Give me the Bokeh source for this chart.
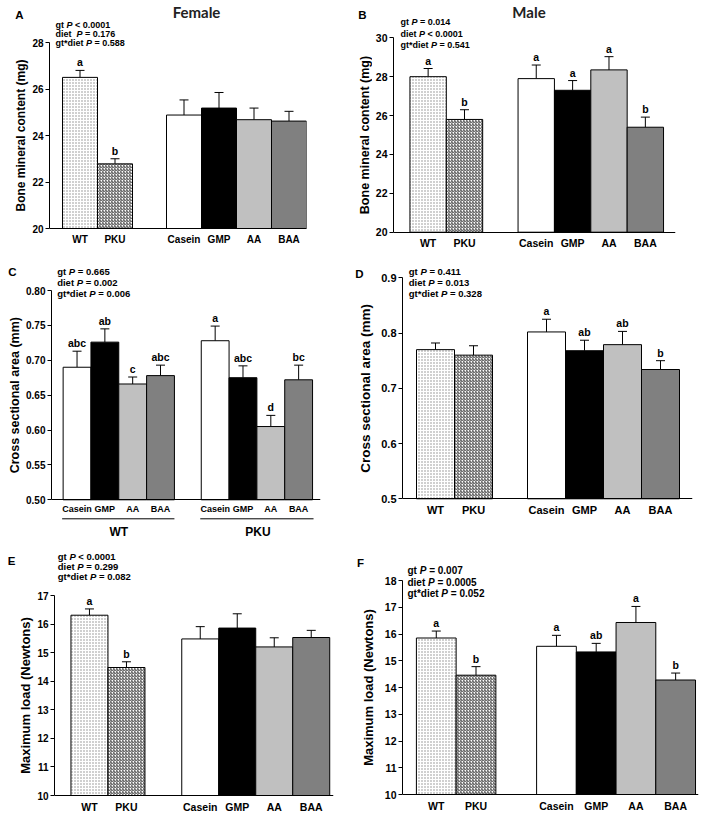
import math
from bokeh.plotting import figure
from bokeh.layouts import column, row
from bokeh.models import (Range1d, FixedTicker, CustomJSTickFormatter, Label, Whisker,
                          TeeHead, ColumnDataSource, NumeralTickFormatter)
from bokeh.core.properties import value
from bokeh.embed import file_html
from bokeh.resources import INLINE

FONT = "Liberation Sans"

# ---------------- data ----------------
bars6 = ["WT", "PKU", "Casein", "GMP", "AA", "BAA"]
diets = ["Casein", "GMP", "AA", "BAA"]
genotypes = ["WT", "PKU"]

A_mean = [26.50, 22.78, 24.88, 25.18, 24.68, 24.62]
A_sem = [0.30, 0.22, 0.65, 0.67, 0.50, 0.42]
A_let = ["a", "b", "", "", "", ""]
A_stats = [("gt ", " < 0.0001"), ("diet  ", " = 0.176"), ("gt*diet ", " = 0.588")]

B_mean = [28.00, 25.80, 27.90, 27.30, 28.35, 25.40]
B_sem = [0.42, 0.50, 0.70, 0.50, 0.68, 0.52]
B_let = ["a", "b", "a", "a", "a", "b"]
B_stats = [("gt ", " = 0.014"), ("diet ", " < 0.0001"), ("gt*diet ", " = 0.541")]

C_wt_mean = [0.690, 0.726, 0.666, 0.678]
C_wt_sem = [0.023, 0.019, 0.010, 0.015]
C_wt_let = ["abc", "ab", "c", "abc"]
C_pku_mean = [0.728, 0.675, 0.605, 0.672]
C_pku_sem = [0.021, 0.017, 0.016, 0.021]
C_pku_let = ["a", "abc", "d", "bc"]
C_stats = [("gt ", " = 0.665"), ("diet ", " = 0.002"), ("gt*diet ", " = 0.006")]

D_mean = [0.770, 0.760, 0.802, 0.768, 0.779, 0.734]
D_sem = [0.012, 0.017, 0.023, 0.019, 0.024, 0.016]
D_let = ["", "", "a", "ab", "ab", "b"]
D_stats = [("gt ", " = 0.411"), ("diet ", " = 0.013"), ("gt*diet ", " = 0.328")]

E_mean = [16.31, 14.48, 15.48, 15.86, 15.20, 15.53]
E_sem = [0.22, 0.20, 0.43, 0.50, 0.32, 0.25]
E_let = ["a", "b", "", "", "", ""]
E_stats = [("gt ", " < 0.0001"), ("diet ", " = 0.299"), ("gt*diet ", " = 0.082")]

F_mean = [15.85, 14.46, 15.54, 15.33, 16.43, 14.28]
F_sem = [0.26, 0.32, 0.41, 0.32, 0.60, 0.26]
F_let = ["a", "b", "a", "ab", "a", "b"]
F_stats = [("gt ", " = 0.007"), ("diet ", " = 0.0005"), ("gt*diet ", " = 0.052")]

# ---------------- styles ----------------
STYLE = {
    "WT": dict(fill="white", hatch=".", hcol="#8a8a8a", hs=3.0, hw=1.0),
    "PKU": dict(fill="white", hatch="/", hcol="#444444", hs=3.0, hw=1.0),
    "Casein": dict(fill="white", hatch=" ", hcol="black", hs=4.0, hw=1.0),
    "GMP": dict(fill="black", hatch=" ", hcol="black", hs=4.0, hw=1.0),
    "AA": dict(fill="#c0c0c0", hatch=" ", hcol="black", hs=4.0, hw=1.0),
    "BAA": dict(fill="#808080", hatch=" ", hcol="black", hs=4.0, hw=1.0),
}

WID = {' ': 278, 'g': 611, 't': 333, 'd': 611, 'i': 278, 'e': 556, '*': 389,
       '<': 584, '=': 584, '.': 278, 'P': 667}


def tw(s, size):
    return sum(WID.get(c, 556) for c in s) * size / 1000.0


def blank_fig(w, h, xr, yr):
    p = figure(width=w, height=h, x_range=xr, y_range=yr, output_backend="svg",
               toolbar_location=None, tools="", min_border_left=0, min_border_right=0,
               min_border_top=0, min_border_bottom=0)
    p.axis.visible = False
    p.xgrid.visible = False
    p.ygrid.visible = False
    p.outline_line_color = None
    return p


def build(fx, fy, fw, fh, ax0, tick_w, bw, starts, counts, xend, ftop, fbot, y0, y1, ystep,
          yfmt, names, means, sems, letters, ylabel, ylab_x, stats, stat_x, stat_ys,
          stat_size, letter, letter_xy, ysz, xsz, lsz, xstand=5, title=None,
          title_xy=None):
    sw = int(round(ax0 - fx - tick_w))
    mx = fx + sw
    mfw = fw - sw
    ml = int(round(ax0 - mx))
    mr = int(round(mfw - (xend - mx)))
    unit = (y1 - y0) / (fbot - ftop)
    ytop = y1 + (ftop - fy) * unit
    ybot = y0 - (fy + fh - fbot) * unit
    xmax = (xend - ax0) / bw

    # ---- left strip: panel letter and y axis title ----
    s = blank_fig(sw, fh, Range1d(fx, fx + sw), Range1d(fy + fh, fy))
    s.text(x=[letter_xy[0]], y=[letter_xy[1]], text=[letter], text_font=value(FONT),
           text_font_style="bold", text_font_size="11.5px", text_align="center",
           text_baseline="middle", text_color="black")
    s.text(x=[ylab_x], y=[(ftop + fbot) / 2], text=[ylabel], angle=math.pi / 2,
           text_font=value(FONT), text_font_style="bold", text_font_size=f"{lsz}px",
           text_align="center", text_baseline="middle", text_color="black")

    # ---- main plot (frame spans the full height; x axis pinned at the baseline) ----
    p = figure(width=mfw, height=fh, x_range=Range1d(0, xmax), y_range=Range1d(ybot, ytop),
               output_backend="svg", toolbar_location=None, tools="",
               min_border_left=ml, min_border_right=mr, min_border_top=0,
               min_border_bottom=0)
    p.outline_line_color = None
    p.xgrid.visible = False
    p.ygrid.visible = False
    p.background_fill_color = "white"

    def xd(px):
        return (px - ax0) / bw

    def yd(py):
        return y0 + (fbot - py) * unit

    centers = []
    for st_, n in zip(starts, counts):
        centers += [(st_ - ax0) / bw + 0.5 + i for i in range(n)]

    st = [STYLE[n] for n in names]
    src = ColumnDataSource(dict(
        x=centers, top=means, upper=[m + e for m, e in zip(means, sems)],
        fill=[q["fill"] for q in st], hatch=[q["hatch"] for q in st],
        hcol=[q["hcol"] for q in st], hs=[q["hs"] for q in st], hw=[q["hw"] for q in st],
        let=letters))
    p.vbar(x="x", top="top", bottom=y0, width=1.0, source=src, fill_color="fill",
           line_color="black", line_width=1, hatch_pattern="hatch", hatch_color="hcol",
           hatch_scale="hs", hatch_weight="hw")
    p.add_layout(Whisker(source=src, base="x", lower="top", upper="upper",
                         dimension="height", line_color="black", line_width=1,
                         upper_head=TeeHead(size=9, line_color="black", line_width=1),
                         lower_head=None))
    p.text(x="x", y="upper", text="let", source=src, text_align="center",
           text_baseline="bottom", y_offset=-2, text_font=value(FONT),
           text_font_style="bold", text_font_size="10.5px", text_color="black")

    ticks = []
    k = 0
    while y0 + k * ystep <= y1 + 1e-9:
        ticks.append(round(y0 + k * ystep, 4))
        k += 1
    ya = p.yaxis[0]
    ya.bounds = (y0, y1)
    ya.ticker = FixedTicker(ticks=ticks)
    ya.formatter = NumeralTickFormatter(format=yfmt)
    ya.major_tick_out = 4
    ya.major_tick_in = 0
    ya.minor_tick_out = 0
    ya.minor_tick_in = 0
    ya.axis_line_color = "black"
    ya.major_tick_line_color = "black"
    ya.major_label_standoff = 2
    ya.major_label_text_font = FONT
    ya.major_label_text_font_style = "bold"
    ya.major_label_text_font_size = f"{ysz}px"
    ya.major_label_text_color = "black"

    xa = p.xaxis[0]
    xa.fixed_location = y0
    xa.ticker = FixedTicker(ticks=centers)
    xa.formatter = CustomJSTickFormatter(args=dict(labels=names),
                                         code="return labels[index];")
    xa.major_tick_out = 0
    xa.major_tick_in = 0
    xa.minor_tick_out = 0
    xa.minor_tick_in = 0
    xa.axis_line_color = "black"
    xa.major_label_standoff = xstand
    xa.major_label_text_font = FONT
    xa.major_label_text_font_style = "bold"
    xa.major_label_text_font_size = f"{xsz}px"
    xa.major_label_text_color = "black"

    sp = tw(" ", stat_size)
    for (pre, suf), py in zip(stats, stat_ys):
        common = dict(x=xd(stat_x), y=yd(py), x_units="data", y_units="data",
                      text_font=FONT, text_font_size=f"{stat_size}px",
                      text_baseline="middle", text_color="black")
        p.add_layout(Label(text=pre.strip(), text_font_style="bold", **common))
        p.add_layout(Label(text="P", text_font_style="bold italic",
                           x_offset=tw(pre, stat_size), **common))
        p.add_layout(Label(text=suf.strip(), text_font_style="bold",
                           x_offset=tw(pre, stat_size) + tw("P", stat_size) + sp, **common))
    if title:
        p.add_layout(Label(text=title, x=xd(title_xy[0]), y=yd(title_xy[1]),
                           text_font="Lato", text_font_style="bold",
                           text_font_size="15px", text_align="center",
                           text_baseline="middle", text_color="#222222"))
    p._xd = xd
    p._yd = yd
    return s, p


sA, pA = build(0, 0, 345, 262, 49, 20, 35, [62, 166], [2, 4], 306, 42, 228, 20, 28, 2, "0",
               bars6, A_mean, A_sem, A_let, "Bone mineral content (mg)", 20.5, A_stats, 55,
               [24, 33, 42], 9, "A", (19, 14), 10, 10, 12, title="Female",
               title_xy=(196, 11))

sB, pB = build(345, 0, 364, 262, 392, 20, 36.5, [408.5, 517], [2, 4], 675, 37.3, 231.7, 20,
               30, 2, "0", bars6, B_mean, B_sem, B_let, "Bone mineral content (mg)", 364.5,
               B_stats, 399, [21.5, 33, 44.5], 9, "B", (362, 14), 10.5, 10.5, 12.5,
               title="Male", title_xy=(528, 11))

sC, pC = build(0, 262, 345, 283, 49.3, 26, 28, [61, 200], [4, 4], 320, 290, 499.3, 0.5, 0.8,
               0.05, "0.00", diets + diets, C_wt_mean + C_pku_mean, C_wt_sem + C_pku_sem,
               C_wt_let + C_pku_let, "Cross sectional area (mm)", 14, C_stats, 55,
               [270.5, 282, 293.3], 9.5, "C", (12, 271), 10, 9, 12.5, xstand=4)

# genotype group underlines and names beneath panel C
gline_x0 = [pC._xd(60), pC._xd(199)]
gline_x1 = [pC._xd(173), pC._xd(313)]
gline_y = [pC._yd(518.3)] * 2
pC.segment(x0=gline_x0, y0=gline_y, x1=gline_x1, y1=gline_y, line_color="black",
           line_width=1)
pC.text(x=[pC._xd(117), pC._xd(257)], y=[pC._yd(531)] * 2, text=genotypes,
        text_font=value(FONT), text_font_style="bold", text_font_size="12px",
        text_align="center", text_baseline="middle", text_color="black")

sD, pD = build(345, 262, 364, 283, 401.7, 24, 38, [415.7, 526.7], [2, 4], 691.7, 277.3,
               498.3, 0.5, 0.9, 0.1, "0.0", bars6, D_mean, D_sem, D_let,
               "Cross sectional area (mm)", 365, D_stats, 408, [270.5, 282, 293.3], 9.5,
               "D", (359, 273), 11, 11, 13.5)

sE, pE = build(0, 545, 345, 269, 51.7, 18, 37.3, [68.3, 180], [2, 4], 333, 595, 795, 10, 17,
               1, "0", bars6, E_mean, E_sem, E_let, "Maximum load (Newtons)", 25, E_stats,
               55, [556, 566, 575.5], 9.5, "E", (11, 560), 10, 10.5, 13)

sF, pF = build(345, 545, 364, 269, 400, 19, 40, [414, 535], [2, 4], 698, 580, 794, 10, 18, 1,
               "0", bars6, F_mean, F_sem, F_let, "Maximum load (Newtons)", 367.5, F_stats,
               405, [570, 582, 593.3], 10, "F", (360, 562), 10.5, 10.5, 13)

layout = column(row(sA, pA, sB, pB), row(sC, pC, sD, pD), row(sE, pE, sF, pF))

open("out.html", "w").write(file_html(layout, INLINE))
